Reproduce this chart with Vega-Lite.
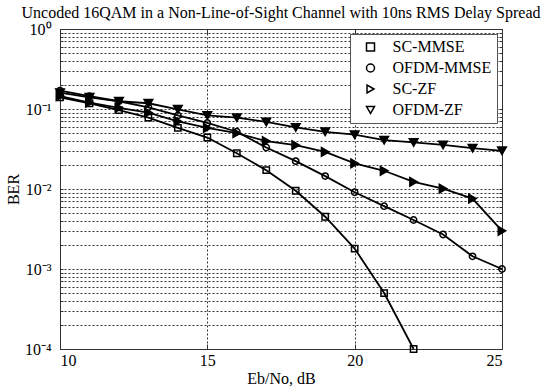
{
  "$schema": "https://vega.github.io/schema/vega-lite/v6.json",
  "width": 442,
  "height": 320,
  "autosize": {"type": "none"},
  "padding": {"left": 60, "top": 29, "right": 55, "bottom": 40},
  "background": "white",
  "title": {
    "text": "Uncoded 16QAM in a Non-Line-of-Sight Channel with 10ns RMS Delay Spread",
    "font": "Liberation Serif",
    "fontSize": 16,
    "fontWeight": "normal",
    "color": "black",
    "offset": 0
  },
  "config": {
    "font": "Liberation Serif",
    "view": {"stroke": "#333", "strokeWidth": 1},
    "axis": {
      "labelFont": "Liberation Serif",
      "labelFontSize": 16,
      "labelColor": "black",
      "titleFont": "Liberation Serif",
      "titleFontSize": 16,
      "titleFontWeight": "normal",
      "titleColor": "black",
      "domain": false,
      "tickColor": "#333",
      "gridColor": "#333",
      "gridDash": [2, 2],
      "gridWidth": 1,
      "gridOpacity": 1,
      "labelOverlap": false
    },
    "legend": {
      "title": null,
      "orient": "top-right",
      "offset": 5,
      "strokeColor": "#555",
      "fillColor": "white",
      "padding": 5,
      "labelFont": "Liberation Serif",
      "labelFontSize": 16,
      "labelColor": "black",
      "rowPadding": 5,
      "symbolSize": 64,
      "symbolStrokeWidth": 1.5,
      "symbolStrokeColor": "black",
      "symbolOffset": 7.5,
      "labelOffset": 14
    }
  },
  "data": {
    "values": [
      {"s": "SC-MMSE", "x": 10, "y": 0.14},
      {"s": "SC-MMSE", "x": 11, "y": 0.118},
      {"s": "SC-MMSE", "x": 12, "y": 0.097},
      {"s": "SC-MMSE", "x": 13, "y": 0.078},
      {"s": "SC-MMSE", "x": 14, "y": 0.058},
      {"s": "SC-MMSE", "x": 15, "y": 0.044},
      {"s": "SC-MMSE", "x": 16, "y": 0.028},
      {"s": "SC-MMSE", "x": 17, "y": 0.0172},
      {"s": "SC-MMSE", "x": 18, "y": 0.0095},
      {"s": "SC-MMSE", "x": 19, "y": 0.0045},
      {"s": "SC-MMSE", "x": 20, "y": 0.0018},
      {"s": "SC-MMSE", "x": 21, "y": 0.0005},
      {"s": "SC-MMSE", "x": 22, "y": 0.0001},
      {"s": "OFDM-MMSE", "x": 10, "y": 0.17},
      {"s": "OFDM-MMSE", "x": 11, "y": 0.145},
      {"s": "OFDM-MMSE", "x": 12, "y": 0.125},
      {"s": "OFDM-MMSE", "x": 13, "y": 0.105},
      {"s": "OFDM-MMSE", "x": 14, "y": 0.083},
      {"s": "OFDM-MMSE", "x": 15, "y": 0.067},
      {"s": "OFDM-MMSE", "x": 16, "y": 0.052},
      {"s": "OFDM-MMSE", "x": 17, "y": 0.033},
      {"s": "OFDM-MMSE", "x": 18, "y": 0.0223},
      {"s": "OFDM-MMSE", "x": 19, "y": 0.0145},
      {"s": "OFDM-MMSE", "x": 20, "y": 0.0091},
      {"s": "OFDM-MMSE", "x": 21, "y": 0.0061},
      {"s": "OFDM-MMSE", "x": 22, "y": 0.0041},
      {"s": "OFDM-MMSE", "x": 23, "y": 0.0027},
      {"s": "OFDM-MMSE", "x": 24, "y": 0.00144},
      {"s": "OFDM-MMSE", "x": 25, "y": 0.001},
      {"s": "SC-ZF", "x": 10, "y": 0.145},
      {"s": "SC-ZF", "x": 11, "y": 0.12},
      {"s": "SC-ZF", "x": 12, "y": 0.103},
      {"s": "SC-ZF", "x": 13, "y": 0.09},
      {"s": "SC-ZF", "x": 14, "y": 0.07},
      {"s": "SC-ZF", "x": 15, "y": 0.058},
      {"s": "SC-ZF", "x": 16, "y": 0.05},
      {"s": "SC-ZF", "x": 17, "y": 0.0396},
      {"s": "SC-ZF", "x": 18, "y": 0.0353},
      {"s": "SC-ZF", "x": 19, "y": 0.0291},
      {"s": "SC-ZF", "x": 20, "y": 0.0209},
      {"s": "SC-ZF", "x": 21, "y": 0.0169},
      {"s": "SC-ZF", "x": 22, "y": 0.0123},
      {"s": "SC-ZF", "x": 23, "y": 0.0101},
      {"s": "SC-ZF", "x": 24, "y": 0.0076},
      {"s": "SC-ZF", "x": 25, "y": 0.003},
      {"s": "OFDM-ZF", "x": 10, "y": 0.16},
      {"s": "OFDM-ZF", "x": 11, "y": 0.14},
      {"s": "OFDM-ZF", "x": 12, "y": 0.125},
      {"s": "OFDM-ZF", "x": 13, "y": 0.118},
      {"s": "OFDM-ZF", "x": 14, "y": 0.099},
      {"s": "OFDM-ZF", "x": 15, "y": 0.083},
      {"s": "OFDM-ZF", "x": 16, "y": 0.078},
      {"s": "OFDM-ZF", "x": 17, "y": 0.069},
      {"s": "OFDM-ZF", "x": 18, "y": 0.0588},
      {"s": "OFDM-ZF", "x": 19, "y": 0.0518},
      {"s": "OFDM-ZF", "x": 20, "y": 0.0478},
      {"s": "OFDM-ZF", "x": 21, "y": 0.0408},
      {"s": "OFDM-ZF", "x": 22, "y": 0.0382},
      {"s": "OFDM-ZF", "x": 23, "y": 0.0356},
      {"s": "OFDM-ZF", "x": 24, "y": 0.0324},
      {"s": "OFDM-ZF", "x": 25, "y": 0.030}
    ]
  },
  "resolve": {"axis": {"x": "independent", "y": "independent"}},
  "layer": [
    {
      "mark": {"type": "line", "color": "black", "strokeWidth": 1.8},
      "encoding": {
        "x": {
          "field": "x", "type": "quantitative",
          "scale": {"domain": [10, 25], "nice": false, "zero": false},
          "axis": {
            "title": "Eb/No, dB",
            "values": [10, 15, 20, 25],
            "tickSize": -5,
            "labelPadding": 8,
            "titlePadding": 2,
            "labelFont": "Liberation Serif"
          }
        },
        "y": {
          "field": "y", "type": "quantitative",
          "scale": {"type": "log", "domain": [0.0001, 1], "nice": false},
          "axis": {
            "title": "BER",
            "titlePadding": 3,
            "labelFont": "Liberation Serif",
            "values": [0.0001, 0.0002, 0.0003, 0.0004, 0.0005, 0.0006, 0.0007, 0.0008, 0.0009, 0.001, 0.002, 0.003, 0.004, 0.005, 0.006, 0.007, 0.008, 0.009, 0.01, 0.02, 0.03, 0.04, 0.05, 0.06, 0.07, 0.08, 0.09, 0.1, 0.2, 0.3, 0.4, 0.5, 0.6, 0.7, 0.8, 0.9, 1],
            "labelExpr": "datum.value === 1 ? '10⁰' : datum.value === 0.1 ? '10⁻¹' : datum.value === 0.01 ? '10⁻²' : datum.value === 0.001 ? '10⁻³' : datum.value === 0.0001 ? '10⁻⁴' : ''",
            "tickSize": -3,
            "labelPadding": 12
          }
        },
        "detail": {"field": "s"}
      }
    },
    {
      "mark": {"type": "point", "stroke": "black", "strokeWidth": 1.5, "opacity": 1},
      "encoding": {
        "x": {
          "field": "x", "type": "quantitative",
          "axis": {"orient": "top", "labels": false, "title": null, "grid": false, "values": [10, 15, 20, 25], "tickSize": -5}
        },
        "y": {
          "field": "y", "type": "quantitative",
          "axis": {"orient": "right", "labels": false, "title": null, "grid": false, "tickSize": -3,
            "values": [0.0001, 0.0002, 0.0003, 0.0004, 0.0005, 0.0006, 0.0007, 0.0008, 0.0009, 0.001, 0.002, 0.003, 0.004, 0.005, 0.006, 0.007, 0.008, 0.009, 0.01, 0.02, 0.03, 0.04, 0.05, 0.06, 0.07, 0.08, 0.09, 0.1, 0.2, 0.3, 0.4, 0.5, 0.6, 0.7, 0.8, 0.9, 1]}
        },
        "shape": {
          "field": "s", "type": "nominal",
          "scale": {"domain": ["SC-MMSE", "OFDM-MMSE", "SC-ZF", "OFDM-ZF"], "range": ["square", "circle", "triangle-right", "triangle-down"]},
          "legend": {"labelFont": "Liberation Serif"}
        },
        "size": {
          "condition": {"test": "datum.s === 'SC-ZF' || datum.s === 'OFDM-ZF'", "value": 75},
          "value": 40
        },
        "fill": {
          "condition": {"test": "datum.s === 'SC-ZF' || datum.s === 'OFDM-ZF'", "value": "black"},
          "value": "transparent"
        }
      }
    }
  ]
}
